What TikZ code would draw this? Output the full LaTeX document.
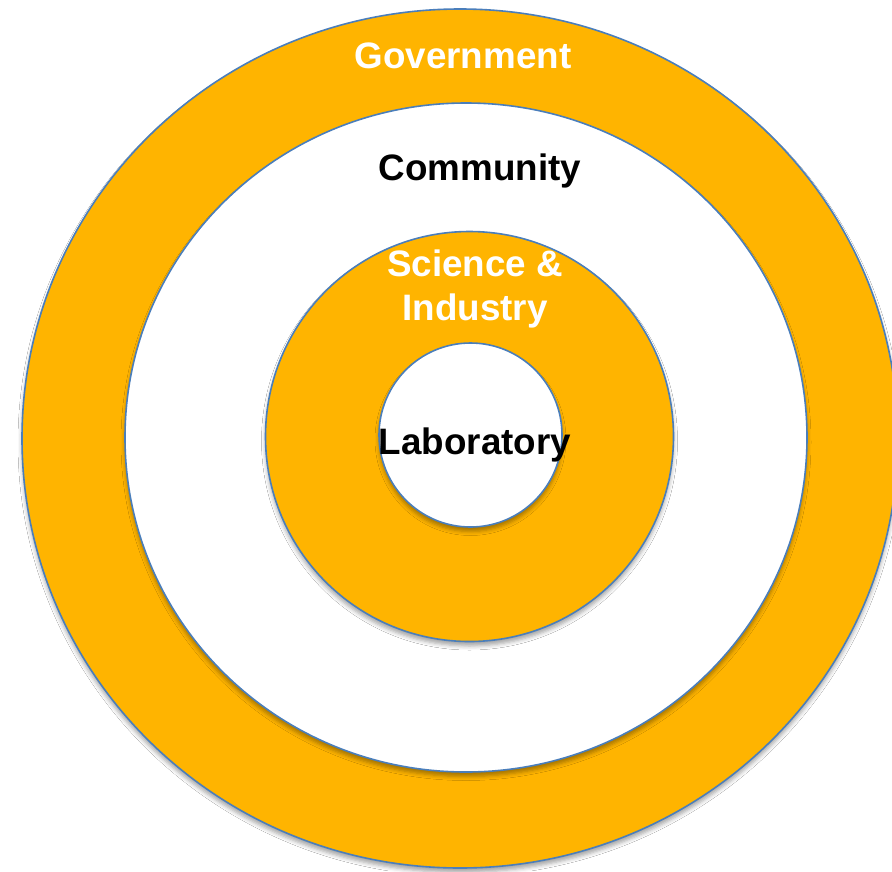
\documentclass[tikz,border=0pt]{standalone}
\usepackage{fontspec}
\setmainfont{Liberation Sans}
\usetikzlibrary{shadows.blur}
\definecolor{ringorange}{RGB}{255,180,0}
\definecolor{ringedge}{RGB}{74,126,187}

\begin{document}
\begin{tikzpicture}[x=1pt,y=-1pt,
  ring/.style={draw=ringedge, line width=1.6pt,
    blur shadow={shadow xshift=0pt, shadow yshift=-4.5pt,
      shadow blur radius=4pt, shadow opacity=35}},
  orangering/.style={ring, fill=ringorange},
  whitering/.style={ring, fill=white},
  lbltext/.style={font=\fontsize{36.8pt}{44pt}\selectfont\bfseries,
    inner sep=0pt, align=center},
  lightlbl/.style={lbltext, text=white},
  darklbl/.style={lbltext, text=black}]

  % canvas
  \useasboundingbox (0,0) rectangle (892,871);
  \fill[white] (0,0) rectangle (892,871);

  % nested rings, outermost first
  \begin{scope}
    \clip (0,0) rectangle (892,871);
    \path[orangering] (460,438.5) ellipse [x radius=438, y radius=429.5];
  \end{scope}
  \path[whitering]  (466,437.5) ellipse [x radius=341, y radius=334.5];
  \path[orangering] (469.5,436.5) ellipse [x radius=204, y radius=205];
  \path[whitering]  (470.5,435) ellipse [x radius=91.5, y radius=92];

  % ring labels
  \node[lightlbl, anchor=base] (government) at (463,68) {Government};
  \node[darklbl,  anchor=base] (community)  at (480,180) {Community};
  \node[lightlbl, anchor=north] (science)   at (475,249.5) {Science \&\\Industry};
  \node[darklbl,  anchor=base] (laboratory) at (475,454) {Laboratory};
\end{tikzpicture}
\end{document}
